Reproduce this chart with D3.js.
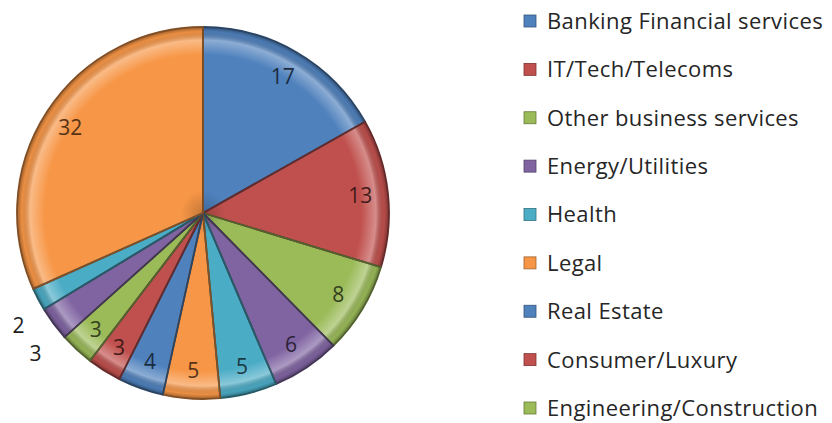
<!DOCTYPE html>
<html lang="en">
<head>
    <meta charset="UTF-8">
    <title>sectors pie</title>
    <script src="https://d3js.org/d3.v7.min.js"></script>
    <style>
        body { margin: 0; background: #fff; }
        text { font-family: "Open Sans", sans-serif; }
    </style>
</head>
<body>
<div id="fig"></div>
<script>
    // legend only shows the first nine sectors (rest is cut off in the original)
    let categories = ["Banking Financial services", "IT/Tech/Telecoms", "Other business services",
        "Energy/Utilities", "Health", "Legal", "Real Estate", "Consumer/Luxury", "Engineering/Construction"]
    let values = [17, 13, 8, 6, 5, 5, 4, 3, 3, 3, 2, 32]
    let palette = ["#4f81bd", "#c0504d", "#9bbb59", "#8064a2", "#4bacc6", "#f79646"]
    let outside = [9, 10]   // slices whose labels sit outside the pie

    let w = 832, h = 423
    let cx = 203, cy = 213, r = 186

    let svg = d3.select("#fig").append("svg")
        .attr("width", w).attr("height", h)

    let defs = svg.append("defs")
    let rim = defs.append("radialGradient").attr("id", "rim")
        .attr("gradientUnits", "userSpaceOnUse")
        .attr("cx", 0).attr("cy", 0).attr("r", r)
    rim.append("stop").attr("offset", 0).attr("stop-color", "#000").attr("stop-opacity", 0.2)
    rim.append("stop").attr("offset", 0.12).attr("stop-color", "#000").attr("stop-opacity", 0)
    rim.append("stop").attr("offset", 0.85).attr("stop-color", "#fff").attr("stop-opacity", 0)
    rim.append("stop").attr("offset", 0.93).attr("stop-color", "#fff").attr("stop-opacity", 0.35)
    rim.append("stop").attr("offset", 0.975).attr("stop-color", "#000").attr("stop-opacity", 0.05)
    rim.append("stop").attr("offset", 1).attr("stop-color", "#000").attr("stop-opacity", 0.35)

    let color = d3.scaleOrdinal().domain(d3.range(values.length)).range(palette)

    let pie = d3.pie().sort(null).value(d => d)
    let arcs = pie(values).map((a, i) => Object.assign(a, {i: i}))
    let arc = d3.arc().innerRadius(0).outerRadius(r)
    let inner = d3.arc().innerRadius(r * 0.85).outerRadius(r * 0.85)
    let outer = d3.arc().innerRadius(r * 1.12).outerRadius(r * 1.12)

    let g = svg.append("g").attr("transform", `translate(${cx},${cy})`)

    g.selectAll("path.slice").data(arcs).join("path")
        .attr("class", "slice")
        .attr("d", arc)
        .attr("fill", d => color(d.i))
    g.selectAll("path.shine").data(arcs).join("path")
        .attr("class", "shine")
        .attr("d", arc)
        .attr("fill", "url(#rim)")
        .attr("stroke", d => d3.color(color(d.i)).darker(1.8))
        .attr("stroke-width", 1.8)
        .attr("stroke-linejoin", "round")

    g.selectAll("text.lbl").data(arcs).join("text")
        .attr("class", "lbl")
        .attr("transform", d => {
            let p = outside.includes(d.i) ? outer.centroid(d) : inner.centroid(d)
            if (outside.includes(d.i)) p[1] += 16
            return `translate(${p})`
        })
        .attr("text-anchor", "middle")
        .attr("dy", "0.36em")
        .attr("font-size", 21)
        .attr("fill", d => outside.includes(d.i) ? "#1e1e1e" : d3.color(color(d.i)).darker(3))
        .text(d => d.data)

    let legend = svg.append("g")
    let row = d3.scaleLinear().domain([0, categories.length - 1]).range([21, 408])
    let item = legend.selectAll("g").data(categories).join("g")
        .attr("transform", (d, i) => `translate(524,${row(i)})`)
    item.append("rect")
        .attr("x", 0).attr("y", -6).attr("width", 12).attr("height", 12)
        .attr("fill", (d, i) => color(i))
        .attr("stroke", (d, i) => d3.color(color(i)).darker(1.2))
        .attr("stroke-width", 0.8)
    item.append("text")
        .attr("x", 23).attr("dy", "0.36em")
        .attr("font-size", 22)
        .attr("letter-spacing", 0.4)
        .attr("fill", "#262626")
        .text(d => d)
</script>
</body>
</html>
